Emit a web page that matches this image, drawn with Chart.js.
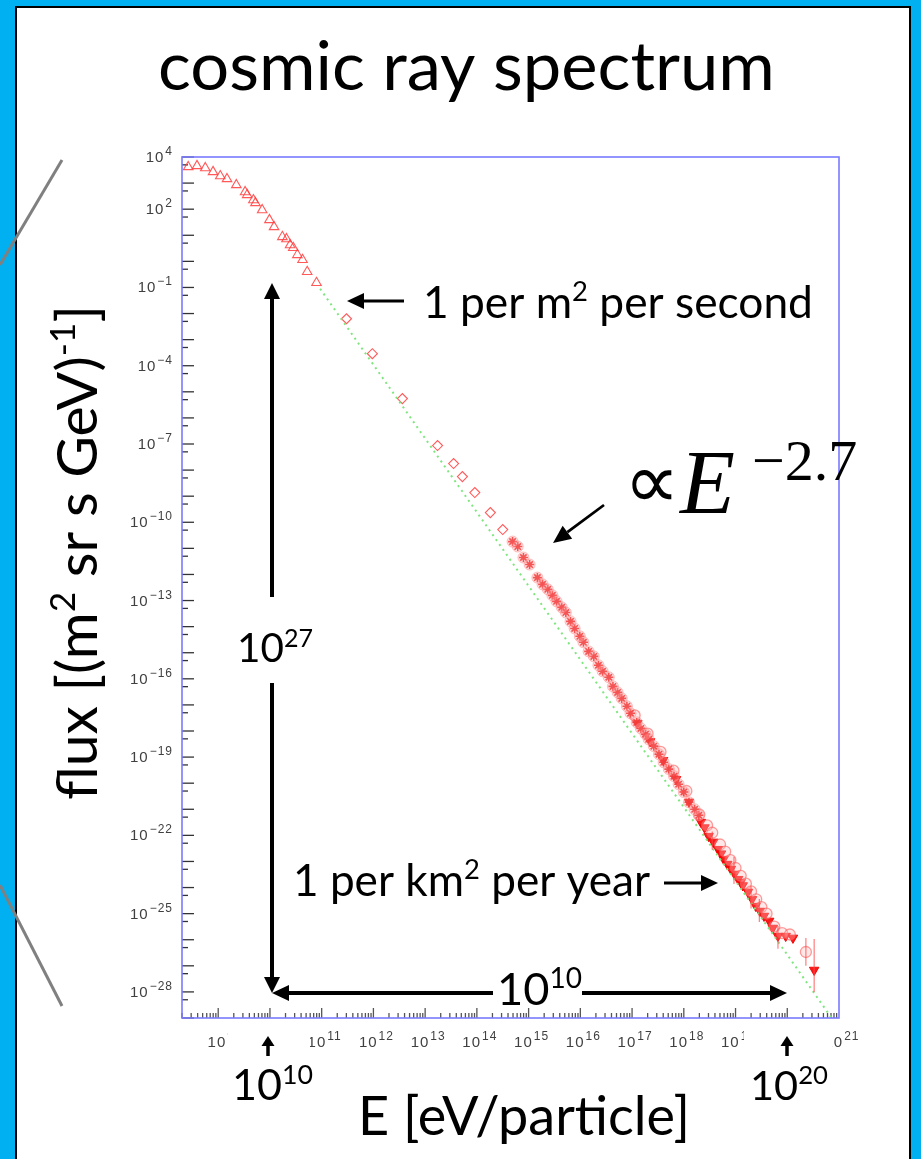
<!DOCTYPE html>
<html>
<head>
<meta charset="utf-8">
<script src="https://cdn.jsdelivr.net/npm/chart.js@4.4.1/dist/chart.umd.min.js"></script>
<style>
  html, body { margin: 0; padding: 0; overflow: hidden; background: #00b0f0; }
  #slide { position: absolute; left: 15px; top: 6px; width: 896px; height: 1200px;
           background: #fff; border: 2px solid #000; box-sizing: border-box; }
  #wrap { position: absolute; left: 0; top: 0; width: 921px; height: 1159px; }
</style>
</head>
<body>
<div id="slide"></div>
<div id="wrap"><canvas id="canvas"></canvas></div>
<script>
// all values are log10: energy in eV, flux in (m^2 sr s GeV)^-1
const triLogE = [8.42, 8.59, 8.75, 8.90, 9.04, 9.17, 9.35, 9.52, 9.56, 9.68, 9.72, 9.85, 9.99, 10.08, 10.24, 10.32, 10.39, 10.45, 10.53, 10.63, 10.72, 10.90];
const triLogFlux = [3.62, 3.66, 3.58, 3.43, 3.27, 3.16, 2.93, 2.66, 2.55, 2.35, 2.24, 1.97, 1.59, 1.32, 0.94, 0.86, 0.63, 0.52, 0.25, 0.06, -0.40, -0.82];

const diaLogE = [11.48, 11.98, 12.56, 13.24, 13.55, 13.72, 13.96, 14.26, 14.50];
const diaLogFlux = [-2.20, -3.54, -5.26, -7.06, -7.75, -8.25, -8.86, -9.63, -10.28];

const kneeLogE = [14.69, 14.79, 14.90, 15.02, 15.17, 15.27, 15.37, 15.46, 15.54, 15.64, 15.72, 15.81, 15.89, 15.99, 16.06, 16.16, 16.26, 16.35, 16.43, 16.55, 16.63, 16.72, 16.80, 16.90, 16.97, 17.09, 17.17, 17.26, 17.32, 17.42, 17.52, 17.61, 17.71, 17.81, 17.90, 18.00, 18.10, 18.21, 18.29];
const kneeLogFlux = [-10.74, -10.93, -11.35, -11.62, -12.12, -12.38, -12.57, -12.80, -13.03, -13.26, -13.46, -13.80, -14.07, -14.37, -14.60, -14.95, -15.14, -15.48, -15.71, -15.94, -16.29, -16.52, -16.75, -17.05, -17.32, -17.67, -17.90, -18.12, -18.32, -18.58, -18.89, -19.20, -19.46, -19.73, -20.04, -20.34, -20.73, -21.00, -21.23];

const ankleLogE = [17.10, 17.35, 17.60, 17.85, 18.10, 18.33, 18.40, 18.48, 18.57, 18.66, 18.72, 18.77, 18.84, 18.91, 18.98, 19.05, 19.10, 19.14, 19.24, 19.32, 19.39, 19.47, 19.55, 19.65, 19.72, 19.82, 19.97, 20.11, 20.52];
const ankleLogFlux = [-17.70, -18.40, -19.12, -19.85, -20.72, -21.49, -21.70, -22.03, -22.25, -22.53, -22.70, -22.91, -23.10, -23.29, -23.48, -23.68, -23.80, -23.92, -24.17, -24.45, -24.71, -24.90, -25.09, -25.28, -25.55, -25.86, -25.86, -25.93, -27.16];

const haloLogE = [17.05, 17.30, 17.55, 17.80, 18.05, 18.30, 18.45, 18.55, 18.70, 18.80, 18.90, 19.00, 19.10, 19.20, 19.30, 19.40, 19.50, 19.60, 19.75, 19.90, 20.05, 20.36];
const haloLogFlux = [-17.40, -18.10, -18.80, -19.52, -20.30, -21.20, -21.62, -21.90, -22.35, -22.62, -22.95, -23.25, -23.55, -23.85, -24.15, -24.45, -24.75, -25.00, -25.50, -25.75, -25.80, -26.47];

const errLogE = [18.55, 18.97, 19.30, 19.46, 19.82, 20.36, 20.52];
const errLogLo = [-22.55, -23.86, -24.80, -25.32, -26.35, -27.00, -28.00];
const errLogHi = [-21.85, -22.83, -23.95, -24.44, -25.47, -25.93, -25.97];

// dotted power-law guide
const fitLogE = [10.97, 20.95];
const fitLogFlux = [-1.05, -29.26];

// axis labels
const xLabelExp = [9, 10, 11, 12, 13, 14, 15, 16, 17, 18, 19, 20, 21];
const yLabelExp = [4, 2, -1, -4, -7, -10, -13, -16, -19, -22, -25, -28];

const pts = (le, lf) => le.map((e, i) => ({ x: 10 ** e, y: 10 ** lf[i] }));

const SUP = 0.62, RISE = 0.38;
function richWidth(c, parts, size, family) {
  let w = 0;
  for (const [t, sup] of parts) {
    c.font = (sup ? size * SUP : size) + 'px ' + family;
    w += c.measureText(t).width;
  }
  return w;
}
function drawRich(c, parts, x, y, size, family) {
  for (const [t, sup] of parts) {
    c.font = (sup ? size * SUP : size) + 'px ' + family;
    c.fillText(t, x, sup ? y - size * RISE : y);
    x += c.measureText(t).width;
  }
}
function arrow(c, x1, y1, x2, y2, lw, hl, hw) {
  const a = Math.atan2(y2 - y1, x2 - x1);
  const bx = x2 - Math.cos(a) * hl, by = y2 - Math.sin(a) * hl;
  c.lineWidth = lw;
  c.beginPath(); c.moveTo(x1, y1); c.lineTo(bx, by); c.stroke();
  c.beginPath(); c.moveTo(x2, y2);
  c.lineTo(bx + Math.sin(a) * hw / 2, by - Math.cos(a) * hw / 2);
  c.lineTo(bx - Math.sin(a) * hw / 2, by + Math.cos(a) * hw / 2);
  c.closePath(); c.fill();
}
function expText(e) { return String(e).replace('-', '\u2212'); }

// tick label "10" with raised exponent, returns drawn width when draw=false
const TICK_FONT = 'Liberation Sans';
function powerLabel(c, e, x, y, draw) {
  c.font = '15px ' + TICK_FONT;
  const wb = c.measureText('10').width;
  c.font = '12px ' + TICK_FONT;
  const we = c.measureText(expText(e)).width;
  if (draw) {
    c.font = '15px ' + TICK_FONT;
    c.fillText('10', x, y);
    c.font = '12px ' + TICK_FONT;
    c.fillText(expText(e), x + wb + 1, y - 7);
  }
  return wb + 1 + we;
}

// ROOT-style frame: ticks pointing inwards, labels with superscripts
const axesPlugin = {
  id: 'rootAxes',
  beforeDatasetsDraw(chart) {
    const c = chart.ctx, { left, right, top, bottom } = chart.chartArea;
    const xs = chart.scales.x, ys = chart.scales.y;
    c.save();
    c.strokeStyle = '#333';
    c.lineWidth = 1.3;
    for (let n = 4; n >= -29; n--) {
      const y = ys.getPixelForValue(10 ** n);
      c.beginPath(); c.moveTo(left, y); c.lineTo(left + 12, y); c.stroke();
      const ys2 = ys.getPixelForValue(0.5 * 10 ** n);
      if (ys2 < bottom) { c.beginPath(); c.moveTo(left, ys2); c.lineTo(left + 6, ys2); c.stroke(); }
    }
    c.strokeStyle = '#555';
    for (let n = 8; n <= 20; n++) {
      for (let k = 1; k <= 9; k++) {
        const v = k * 10 ** n;
        if (v < xs.min || v > xs.max) continue;
        const x = xs.getPixelForValue(v);
        c.beginPath(); c.moveTo(x, bottom); c.lineTo(x, bottom - (k === 1 ? 10 : 5)); c.stroke();
      }
    }
    c.fillStyle = '#404040';
    c.letterSpacing = '1px';
    c.textBaseline = 'alphabetic';
    for (const e of yLabelExp) {
      const y = ys.getPixelForValue(10 ** e);
      const w = powerLabel(c, e, 0, 0, false);
      powerLabel(c, e, left - 9 - w, y + 5, true);
    }
    for (const e of xLabelExp) {
      const x = xs.getPixelForValue(10 ** e);
      const w = powerLabel(c, e, 0, 0, false);
      powerLabel(c, e, x - w / 2 + 3, bottom + 29, true);
    }
    c.restore();
  },
  afterDatasetsDraw(chart) {
    const c = chart.ctx, xs = chart.scales.x, ys = chart.scales.y;
    const { left, right, top, bottom } = chart.chartArea;
    c.save();
    c.strokeStyle = 'rgba(255,70,70,0.7)';
    c.lineWidth = 1.2;
    errLogE.forEach((e, i) => {
      const x = xs.getPixelForValue(10 ** e);
      c.beginPath();
      c.moveTo(x, ys.getPixelForValue(10 ** errLogHi[i]));
      c.lineTo(x, ys.getPixelForValue(10 ** errLogLo[i]));
      c.stroke();
    });
    c.strokeStyle = '#7a7aff';
    c.lineWidth = 1.6;
    c.strokeRect(left, top, right - left, bottom - top);
    c.restore();
  }
};

// slide overlay: title, axis titles, arrows and callouts
const slideText = [
  { parts: [['cosmic ray spectrum', 0]], x: 158, y: 90, w: 617 },
  { parts: [['1 per m', 0], ['2', 1], [' per second', 0]], x: 423, y: 318, w: 390 },
  { parts: [['1 per km', 0], ['2', 1], [' per year', 0]], x: 293, y: 896, w: 357 },
  { parts: [['10', 0], ['27', 1]], x: 237, y: 662, w: 76 },
  { parts: [['10', 0], ['10', 1]], x: 497, y: 1005, w: 85 },
  { parts: [['10', 0], ['10', 1]], x: 232, y: 1100, w: 81 },
  { parts: [['10', 0], ['20', 1]], x: 750, y: 1100, w: 78 },
  { parts: [['E [eV/particle]', 0]], x: 358, y: 1135, w: 332 },
  { parts: [['flux [(m', 0], ['2', 1], [' sr s GeV)', 0], ['-1', 1], [']', 0]], x: 97, y: 800, w: 495, rot: true }
];

const slidePlugin = {
  id: 'slide',
  afterDraw(chart) {
    const c = chart.ctx;
    c.save();
    // text boxes behind the energy callouts hide parts of the axis labels
    c.fillStyle = '#fff';
    c.fillRect(228, 1021, 82, 32);
    c.fillRect(744, 1021, 88, 32);

    c.strokeStyle = '#808080';
    c.lineWidth = 3;
    c.beginPath(); c.moveTo(62, 160); c.lineTo(0, 265); c.stroke();
    c.beginPath(); c.moveTo(0, 885); c.lineTo(62, 1006); c.stroke();

    c.fillStyle = '#000';
    c.textBaseline = 'alphabetic';
    for (const t of slideText) {
      const size = 100 * t.w / richWidth(c, t.parts, 100, 'Lato');
      if (t.rot) {
        c.save(); c.translate(t.x, t.y); c.rotate(-Math.PI / 2);
        drawRich(c, t.parts, 0, 0, size, 'Lato');
        c.restore();
      } else {
        drawRich(c, t.parts, t.x, t.y, size, 'Lato');
      }
    }

    c.font = '78px "DejaVu Sans"';
    c.fillText('\u221D', 624, 508);
    c.font = 'italic 90px "Liberation Serif"';
    c.fillText('E', 680, 513);
    c.font = '58px "Liberation Serif"';
    c.fillText('\u22122.7', 752, 480);

    c.strokeStyle = '#000';
    arrow(c, 404, 301, 347, 301, 2.8, 17, 16);
    arrow(c, 604, 505, 553, 543, 2.8, 18, 16);
    arrow(c, 664, 883, 718, 883, 2.8, 17, 16);
    arrow(c, 272, 597, 272, 283, 4, 16, 16);
    arrow(c, 272, 683, 272, 993, 4, 16, 16);
    arrow(c, 493, 993, 272, 993, 4, 17, 16);
    arrow(c, 582, 993, 787, 993, 4, 17, 16);
    arrow(c, 268, 1056, 268, 1036, 3.5, 10, 13);
    arrow(c, 787, 1056, 787, 1036, 3.5, 10, 13);
    c.restore();
  }
};

const ctx = document.getElementById('canvas').getContext('2d');

new Chart(ctx, {
  type: 'scatter',
  data: {
    datasets: [
      {
        type: 'line',
        data: pts(fitLogE, fitLogFlux),
        borderColor: '#7fe67f',
        borderWidth: 2,
        borderDash: [2, 4],
        pointRadius: 0,
        fill: false
      },
      {
        data: pts(triLogE, triLogFlux),
        pointStyle: 'triangle',
        pointRadius: 5.5,
        borderColor: 'rgba(255,60,60,0.85)',
        backgroundColor: 'rgba(0,0,0,0)',
        borderWidth: 1.1
      },
      {
        data: pts(diaLogE, diaLogFlux),
        pointStyle: 'rectRot',
        pointRadius: 5,
        borderColor: 'rgba(255,60,60,0.85)',
        backgroundColor: 'rgba(0,0,0,0)',
        borderWidth: 1.1
      },
      {
        data: pts(kneeLogE, kneeLogFlux),
        pointStyle: 'circle',
        pointRadius: 5.5,
        borderColor: 'rgba(255,120,120,0.45)',
        backgroundColor: 'rgba(255,170,170,0.35)',
        borderWidth: 1
      },
      {
        data: pts(kneeLogE, kneeLogFlux),
        pointStyle: 'star',
        pointRadius: 4.5,
        borderColor: 'rgba(235,0,0,0.85)',
        borderWidth: 1.6
      },
      {
        data: pts(haloLogE, haloLogFlux),
        pointStyle: 'circle',
        pointRadius: 5.5,
        borderColor: 'rgba(255,90,90,0.6)',
        backgroundColor: 'rgba(255,190,190,0.35)',
        borderWidth: 1.3
      },
      {
        data: pts(ankleLogE, ankleLogFlux),
        pointStyle: 'triangle',
        pointRotation: 180,
        pointRadius: 5.5,
        borderColor: 'rgba(240,0,0,0.9)',
        backgroundColor: 'rgba(250,0,0,0.9)',
        borderWidth: 1
      }
    ]
  },
  options: {
    responsive: true,
    maintainAspectRatio: false,
    devicePixelRatio: 1,
    animation: false,
    layout: { padding: { left: 182, right: 82, top: 157, bottom: 141 } },
    scales: {
      x: { type: 'logarithmic', min: 10 ** 8.3, max: 1e21, display: false },
      y: { type: 'logarithmic', min: 1e-29, max: 1e4, display: false }
    },
    plugins: {
      legend: { display: false },
      tooltip: { enabled: false }
    }
  },
  plugins: [axesPlugin, slidePlugin]
});
</script>
</body>
</html>
